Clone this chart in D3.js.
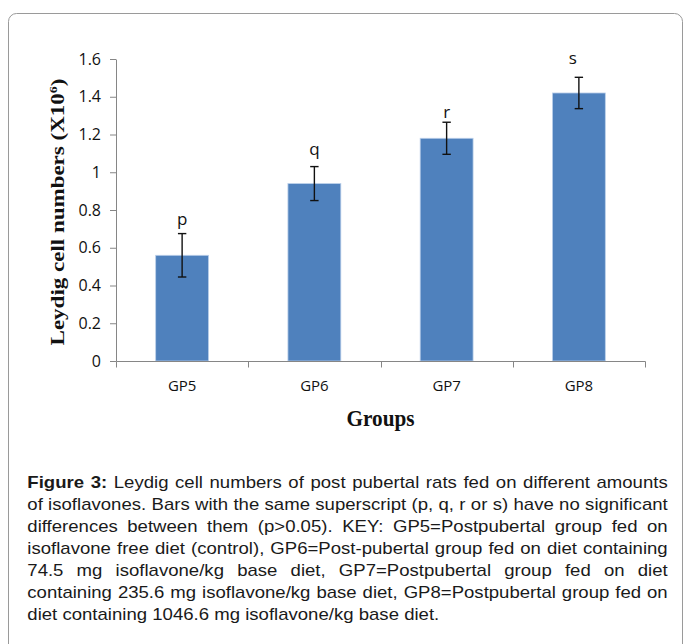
<!DOCTYPE html>
<html>
<head>
<meta charset="utf-8">
<script src="https://cdn.jsdelivr.net/npm/d3@7/dist/d3.min.js"></script>
<style>
  html, body { margin: 0; padding: 0; background: #ffffff; }
  svg { display: block; }
</style>
</head>
<body>
<script>
// ---------------- data ----------------
const categories = ["GP5", "GP6", "GP7", "GP8"];
const means = [0.56, 0.94, 1.18, 1.42];
const errors = [0.115, 0.09, 0.085, 0.083];
const letters = ["p", "q", "r", "s"];
const letterLevels = [0.723, 1.094, 1.285, 1.571];
const yTicks = [0, 0.2, 0.4, 0.6, 0.8, 1.0, 1.2, 1.4, 1.6];
const yTickLabels = ["0", "0.2", "0.4", "0.6", "0.8", "1", "1.2", "1.4", "1.6"];
const yTitle = "Leydig cell numbers (X10";
const yTitleSup = "6";
const xTitle = "Groups";
const captionLead = "Figure 3:";
const captionLines = [
  "Figure 3: Leydig cell numbers of post pubertal rats fed on different amounts",
  "of isoflavones. Bars with the same superscript (p, q, r or s) have no significant",
  "differences between them (p>0.05). KEY: GP5=Postpubertal group fed on",
  "isoflavone free diet (control), GP6=Post-pubertal group fed on diet containing",
  "74.5 mg isoflavone/kg base diet, GP7=Postpubertal group fed on diet",
  "containing 235.6 mg isoflavone/kg base diet, GP8=Postpubertal group fed on",
  "diet containing 1046.6 mg isoflavone/kg base diet."
];

// ---------------- layout ----------------
const W = 683, H = 644;
const plot = { left: 116, right: 645, top: 59, bottom: 361 };
const barColor = "#4f81bd";
const axisColor = "#868686";
const chartFont = "'Open Sans', sans-serif";
const letterNudge = [0, 0, 0, -6];

const svg = d3.select("body").append("svg")
  .attr("width", W).attr("height", H)
  .attr("viewBox", `0 0 ${W} ${H}`);

// frame
svg.append("rect")
  .attr("x", 8.5).attr("y", 13.5)
  .attr("width", 674).attr("height", 700)
  .attr("rx", 8).attr("ry", 8)
  .attr("fill", "none")
  .attr("stroke", "#9a9a9a")
  .attr("stroke-width", 1);

// scales
const x = d3.scaleBand()
  .domain(categories)
  .range([plot.left, plot.right])
  .paddingInner(0.6)
  .paddingOuter(0.3);

const y = d3.scaleLinear()
  .domain([0, 1.6])
  .range([plot.bottom, plot.top]);

// bars
svg.append("g").selectAll("rect")
  .data(categories)
  .join("rect")
  .attr("x", d => x(d))
  .attr("y", (d, i) => y(means[i]))
  .attr("width", x.bandwidth())
  .attr("height", (d, i) => y(0) - y(means[i]))
  .attr("fill", barColor)
  .attr("stroke", "#bcd0ea")
  .attr("stroke-width", 0.8);

// y axis
const yAxis = svg.append("g")
  .attr("transform", `translate(${plot.left},0)`)
  .call(d3.axisLeft(y)
    .tickValues(yTicks)
    .tickFormat((d, i) => yTickLabels[i])
    .tickSize(6)
    .tickSizeOuter(0)
    .tickPadding(9));
yAxis.select(".domain").attr("stroke", axisColor);
yAxis.selectAll(".tick line").attr("stroke", axisColor);
yAxis.selectAll(".tick text")
  .attr("fill", "#111")
  .style("font-family", chartFont)
  .style("font-size", "16px");

// x axis (category labels)
const xAxis = svg.append("g")
  .attr("transform", `translate(0,${plot.bottom})`)
  .call(d3.axisBottom(x).tickSize(0).tickSizeOuter(0).tickPadding(19));
xAxis.select(".domain").attr("stroke", axisColor);
xAxis.selectAll(".tick line").remove();
xAxis.selectAll(".tick text")
  .attr("fill", "#111")
  .style("font-family", chartFont)
  .style("font-size", "15px");

// x boundary ticks
const step = x.step();
const x0 = x.range()[0];
const boundaries = d3.range(categories.length + 1).map(i => x0 + i * step);
svg.append("g").selectAll("line")
  .data(boundaries)
  .join("line")
  .attr("x1", d => Math.round(d) + 0.5)
  .attr("x2", d => Math.round(d) + 0.5)
  .attr("y1", y(0) + 0.5)
  .attr("y2", y(0) + 6.5)
  .attr("stroke", axisColor);

// error bars
const eg = svg.append("g").attr("stroke", "#111").attr("stroke-width", 1.4);
const capHalf = 4.2;
categories.forEach((c, i) => {
  const cx = x(c) + x.bandwidth() / 2;
  const yt = y(means[i] + errors[i]);
  const yb = y(means[i] - errors[i]);
  eg.append("line").attr("x1", cx).attr("x2", cx).attr("y1", yt).attr("y2", yb);
  eg.append("line").attr("x1", cx - capHalf).attr("x2", cx + capHalf).attr("y1", yt).attr("y2", yt);
  eg.append("line").attr("x1", cx - capHalf).attr("x2", cx + capHalf).attr("y1", yb).attr("y2", yb);
});

// significance letters
svg.append("g").selectAll("text")
  .data(letters)
  .join("text")
  .attr("x", (d, i) => x(categories[i]) + x.bandwidth() / 2 + letterNudge[i])
  .attr("y", (d, i) => y(letterLevels[i]))
  .attr("text-anchor", "middle")
  .attr("fill", "#111")
  .style("font-family", chartFont)
  .style("font-size", "17px")
  .text(d => d);

// y title
const yt = svg.append("text")
  .attr("transform", "translate(63.5,212) rotate(-90) scale(1,0.78)")
  .attr("text-anchor", "middle")
  .attr("fill", "#111")
  .style("font-family", "'Liberation Serif', 'Times New Roman', serif")
  .style("font-weight", "bold")
  .style("font-size", "23px");
yt.append("tspan").text(yTitle);
yt.append("tspan").attr("dy", -8).style("font-size", "14px").text(yTitleSup);
yt.append("tspan").attr("dy", 8).text(")");

// x title
svg.append("text")
  .attr("x", (plot.left + plot.right) / 2)
  .attr("y", 425.5)
  .attr("text-anchor", "middle")
  .attr("fill", "#111")
  .attr("textLength", 68)
  .attr("lengthAdjust", "spacingAndGlyphs")
  .style("font-family", "'Liberation Serif', 'Times New Roman', serif")
  .style("font-weight", "bold")
  .style("font-size", "23.5px")
  .text(xTitle);

// caption
const capLeft = 27.3, capRight = 667.7, capTop = 488.3, capLead = 22;
const capFont = "'Liberation Sans', Arial, sans-serif";
const capSize = 16;
const lastLineWidth = 412;

const measure = svg.append("text")
  .style("font-family", capFont).style("font-size", capSize + "px")
  .text(captionLines[captionLines.length - 1]);
const natural = measure.node().getComputedTextLength();
measure.remove();
const sx = lastLineWidth / natural;
const leadWords = captionLead.split(" ").length;

captionLines.forEach((line, i) => {
  const g = svg.append("g")
    .attr("transform", `translate(${capLeft},${capTop + i * capLead}) scale(${sx},1)`);
  const words = line.split(" ");
  const nodes = words.map((w, j) => g.append("text")
    .attr("fill", "#1a1a1a")
    .style("font-family", capFont)
    .style("font-size", capSize + "px")
    .style("font-weight", (i === 0 && j < leadWords) ? "bold" : "normal")
    .text(w));
  const widths = nodes.map(n => n.node().getComputedTextLength());
  const total = d3.sum(widths);
  const target = (capRight - capLeft) / sx;
  const isLast = i === captionLines.length - 1;
  const spaceW = capSize * 0.278;
  const gap = isLast ? spaceW : (target - total) / (words.length - 1);
  let cx = 0;
  nodes.forEach((n, j) => {
    n.attr("x", cx);
    cx += widths[j] + gap;
  });
});
</script>
</body>
</html>
